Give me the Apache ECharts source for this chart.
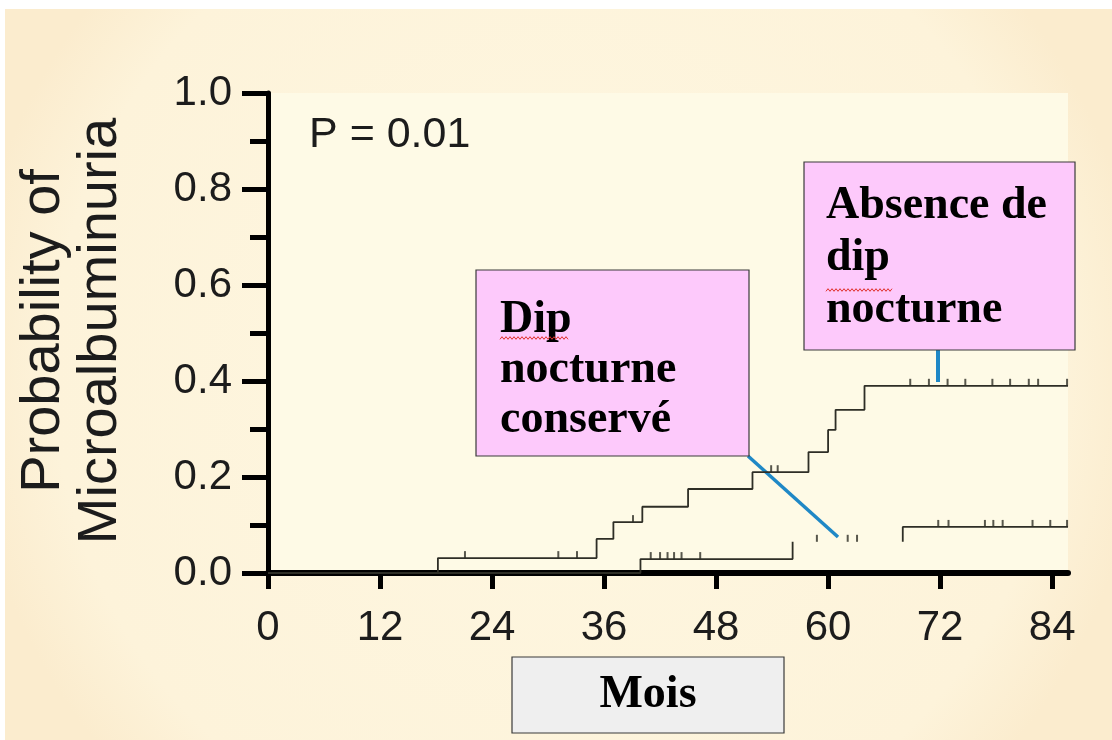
<!DOCTYPE html>
<html>
<head>
<meta charset="utf-8">
<script src="https://cdn.jsdelivr.net/npm/echarts@6/dist/echarts.min.js"></script>
<style>
  html, body { margin: 0; padding: 0; background: #ffffff; }
  #chart { width: 1112px; height: 740px; }
</style>
</head>
<body>
<div id="chart"></div>
<script>
// Kaplan–Meier estimate of the probability of microalbuminuria over follow-up (months)
const xTicks = [0, 12, 24, 36, 48, 60, 72, 84];
const yTicks = [0, 0.2, 0.4, 0.6, 0.8, 1.0];
const yTickLabels = ['0.0', '0.2', '0.4', '0.6', '0.8', '1.0'];
const followUpEnd = 85.7;

// Absence de dip nocturne: event times and cumulative probability after each event
const noDipTimes = [18.2, 35.2, 37.0, 40.1, 45.0, 51.9, 57.9, 60.0, 60.8, 63.9];
const noDipProb  = [0.031, 0.071, 0.106, 0.138, 0.175, 0.21, 0.252, 0.298, 0.34, 0.39];
const noDipCensored = [21.1, 31.1, 33.1, 39.1, 53.9, 54.6, 68.8, 70.8, 72.8, 74.7, 77.6, 79.5, 81.5, 82.5, 85.6];

// Dip nocturne conservé
const dipTimes = [39.9, 56.2, 68.0];
const dipProb  = [0.029, 0.065, 0.096];
const dipCensored = [41.0, 42.0, 42.8, 43.5, 44.3, 46.3, 58.8, 62.1, 63.1, 71.8, 72.9, 76.8, 77.7, 78.7, 81.9, 83.8, 85.6];
// stretch of the Dip curve that is not traced
const dipUntraced = [56.2, 68.0];

function stepPoints(times, probs, end, gap) {
  const pts = [[0, 0]];
  let prev = 0;
  times.forEach((t, i) => {
    if (gap && t === gap[1]) pts.push([(gap[0] + gap[1]) / 2, null]);
    pts.push([t, prev]);
    pts.push([t, probs[i]]);
    prev = probs[i];
  });
  pts.push([end, prev]);
  return pts;
}
function probAt(times, probs, t) {
  let p = 0;
  times.forEach((tt, i) => { if (tt <= t) p = probs[i]; });
  return p;
}
function censorPoints(times, probs, cens) {
  return cens.map(t => [t, probAt(times, probs, t)]);
}

const curveColor = '#2e2e26';
const labelFont = 'Liberation Sans';
const serif = '"Liberation Serif", "Times New Roman", serif';
const pointerBlue = '#1f88c6';

function squiggle(x0, x1, y) {
  const pts = [];
  for (let x = x0, k = 0; x <= x1; x += 2, k++) pts.push([x, y + (k % 2 ? -1.3 : 1.3)]);
  return pts;
}

const chart = echarts.init(document.getElementById('chart'), null, { renderer: 'canvas' });

const option = {
  animation: false,
  backgroundColor: 'transparent',
  grid: { left: 268, right: 44, top: 93, bottom: 167, show: true, backgroundColor: '#fefae6', borderWidth: 0 },
  xAxis: {
    type: 'value', min: 0, max: followUpEnd, interval: 12,
    axisLine: { show: true, lineStyle: { color: '#000', width: 6 } },
    axisTick: { show: true, length: 16, customValues: xTicks, lineStyle: { color: '#000', width: 5 } },
    axisLabel: { customValues: xTicks, margin: 34, fontSize: 42, color: '#1c1c1c', fontFamily: labelFont,
                 formatter: v => String(v) },
    splitLine: { show: false }
  },
  yAxis: {
    type: 'value', min: 0, max: 1, interval: 0.2,
    axisLine: { show: true, lineStyle: { color: '#000', width: 5 } },
    axisTick: { show: true, length: 26, lineStyle: { color: '#000', width: 5 } },
    minorTick: { show: true, splitNumber: 2, length: 18, lineStyle: { color: '#000', width: 5 } },
    axisLabel: { margin: 36, fontSize: 42, color: '#1c1c1c', fontFamily: labelFont,
                 formatter: v => yTickLabels[yTicks.findIndex(t => Math.abs(t - v) < 1e-6)] },
    splitLine: { show: false }
  },
  series: [
    {
      name: 'Absence de dip nocturne', type: 'line', showSymbol: false, clip: false,
      data: stepPoints(noDipTimes, noDipProb, followUpEnd),
      lineStyle: { color: curveColor, width: 1.8 }, z: 3
    },
    {
      name: 'Dip nocturne conservé', type: 'line', showSymbol: false, clip: false, connectNulls: false,
      data: stepPoints(dipTimes, dipProb, followUpEnd, dipUntraced),
      lineStyle: { color: curveColor, width: 1.8 }, z: 3
    },
    {
      name: 'censored no dip', type: 'scatter', symbol: 'rect', symbolSize: [2, 7], symbolOffset: [0, -3.5],
      data: censorPoints(noDipTimes, noDipProb, noDipCensored),
      itemStyle: { color: curveColor }, z: 3
    },
    {
      name: 'censored dip', type: 'scatter', symbol: 'rect', symbolSize: [2, 7], symbolOffset: [0, -3.5],
      data: censorPoints(dipTimes, dipProb, dipCensored),
      itemStyle: { color: curveColor }, z: 3
    }
  ],
  graphic: [
    // slide background
    { type: 'rect', z: -20, shape: { x: 0, y: 0, width: 1112, height: 740 },
      style: { fill: { type: 'radial', x: 0.5, y: 0.5, r: 0.8,
        colorStops: [{ offset: 0, color: '#fef7e1' }, { offset: 0.85, color: '#fdf3da' }, { offset: 1, color: '#fbecce' }] } } },
    { type: 'rect', z: -19, shape: { x: 0, y: 0, width: 1112, height: 9 }, style: { fill: '#ffffff' } },
    { type: 'rect', z: -19, shape: { x: 0, y: 0, width: 5, height: 740 }, style: { fill: '#ffffff' } },

    // p-value
    { type: 'text', z: 10, x: 309, y: 135,
      style: { text: 'P = 0.01', font: '43px "Liberation Sans"', fill: '#1c1c1c',
               textAlign: 'left', align: 'left', textVerticalAlign: 'middle', verticalAlign: 'middle' } },

    // y-axis title
    { type: 'text', z: 10, x: 72, y: 331, rotation: Math.PI / 2,
      style: { text: 'Probability of\nMicroalbuminuria', font: '56px "Liberation Sans"', fill: '#1c1c1c', lineHeight: 57,
               textAlign: 'center', align: 'center', textVerticalAlign: 'middle', verticalAlign: 'middle' } },

    // pointers
    { type: 'line', z: 1, shape: { x1: 748, y1: 456, x2: 838, y2: 537 }, style: { stroke: pointerBlue, lineWidth: 3.5 } },
    { type: 'line', z: 1, shape: { x1: 938, y1: 350, x2: 938, y2: 382 }, style: { stroke: pointerBlue, lineWidth: 4 } },

    // Dip nocturne conservé box
    { type: 'rect', z: 10, shape: { x: 476, y: 270, width: 273, height: 186 },
      style: { fill: '#fdc9fb', stroke: '#3a3a3a', lineWidth: 1.2 } },
    { type: 'text', z: 11, x: 500, y: 295,
      style: { text: 'Dip\nnocturne\nconservé', font: 'bold 46px ' + serif, fill: '#000', lineHeight: 50,
               textAlign: 'left', align: 'left', textVerticalAlign: 'top', verticalAlign: 'top' } },
    { type: 'polyline', z: 12, shape: { points: squiggle(500, 568, 338) }, style: { stroke: '#e0302a', lineWidth: 1, fill: null } },

    // Absence de dip nocturne box
    { type: 'rect', z: 10, shape: { x: 804, y: 162, width: 271, height: 188 },
      style: { fill: '#fdc9fb', stroke: '#3a3a3a', lineWidth: 1.2 } },
    { type: 'text', z: 11, x: 826, y: 180,
      style: { text: 'Absence de\ndip\nnocturne', font: 'bold 46px ' + serif, fill: '#000', lineHeight: 52,
               textAlign: 'left', align: 'left', textVerticalAlign: 'top', verticalAlign: 'top' } },
    { type: 'polyline', z: 12, shape: { points: squiggle(826, 893, 290) }, style: { stroke: '#e0302a', lineWidth: 1, fill: null } },

    // x-axis title box
    { type: 'rect', z: 10, shape: { x: 512, y: 657, width: 272, height: 76 },
      style: { fill: '#efefef', stroke: '#3a3a3a', lineWidth: 1.2 } },
    { type: 'text', z: 11, x: 648, y: 695,
      style: { text: 'Mois', font: 'bold 46px ' + serif, fill: '#000',
               textAlign: 'center', align: 'center', textVerticalAlign: 'middle', verticalAlign: 'middle' } }
  ]
};

chart.setOption(option);
</script>
</body>
</html>
